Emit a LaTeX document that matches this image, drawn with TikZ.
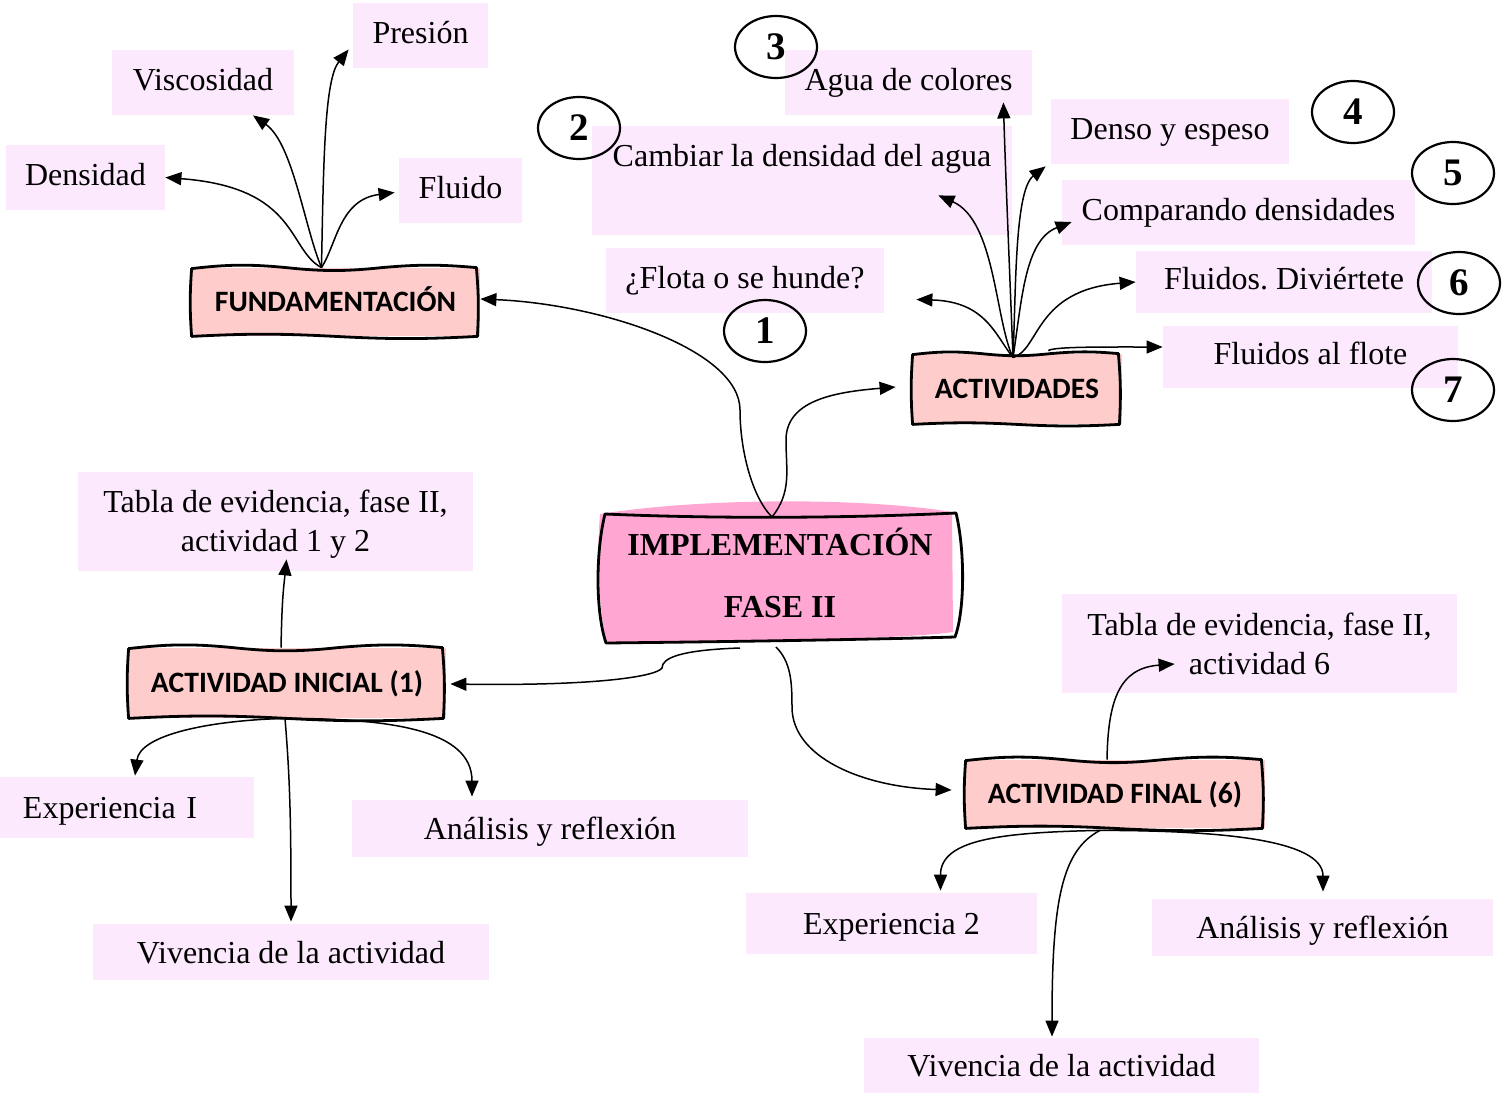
\documentclass[tikz,border=0pt]{standalone}
\usepackage{fontspec}
\setmainfont{Liberation Serif}
\newfontfamily\headfont{Carlito}
\usetikzlibrary{arrows.meta,calc,shapes.geometric}
\frenchspacing

\definecolor{notepink}{RGB}{253,233,253}
\definecolor{boxsalmon}{RGB}{255,204,204}
\definecolor{corepink}{RGB}{255,166,210}

\tikzset{
  note/.style={fill=notepink, inner sep=0pt, text height=11pt, text depth=3.5pt,
    font=\fontsize{16}{19.5}\selectfont},
  lownote/.style={note, text height=14.5pt},
  note2/.style={fill=notepink, inner sep=0pt, align=center,
    font=\fontsize{16}{19.5}\selectfont},
  head/.style={fill=boxsalmon, inner sep=0pt, text height=9.5pt, text depth=0pt,
    font=\headfont\bfseries\fontsize{14.8}{17}\selectfont},
  frame/.style={line width=1.4pt, line join=round, line cap=round},
  link/.style={line width=0.75pt, -{Triangle[length=8pt,width=6.5pt]}},
  num/.style={ellipse, draw, line width=1.1pt, minimum width=41pt, minimum height=31pt,
    inner sep=0pt, font=\bfseries\fontsize{19.5}{20}\selectfont},
}

% hand-drawn looking outline around a head box
\newcommand\roughframe[1]{%
  \draw[frame]
    ([shift={(1,1)}]#1.north west)
    to[bend left=6] ($(#1.north west)!0.33!(#1.north east)$)
    to[bend right=6] ($(#1.north west)!0.66!(#1.north east)$)
    to[bend left=5] ([shift={(-4,0)}]#1.north east)
    to[bend left=4] ([shift={(-3,0)}]#1.south east)
    to[bend left=3] ($(#1.south west)!0.5!(#1.south east)$)
    to[bend right=3] ([shift={(1,0)}]#1.south west)
    to[bend left=4] ([shift={(1,1)}]#1.north west);}

\begin{document}
\begin{tikzpicture}[x=0.5pt,y=-0.5pt]
\useasboundingbox (0,0) rectangle (1511,1093);

% ---- concept notes ----
\node[note, minimum width=67.5pt, minimum height=32.5pt] (pres) at (420.5,35.5) {Presión};
\node[note, minimum width=91pt, minimum height=32.5pt] (visc) at (203,82.5) {Viscosidad};
\node[note, minimum width=79.5pt, minimum height=32.5pt] (dens) at (85.5,177.5) {Densidad};
\node[note, minimum width=61.5pt, minimum height=32.5pt] (flui) at (460.5,190.5) {Fluido};

\node[note, minimum width=123.5pt, minimum height=32.5pt] (agua) at (908.5,82.5) {Agua de colores};
\node[note, minimum width=210pt, text height=20pt, text depth=34.5pt] (cambiar) at (802,180.5) {Cambiar la densidad del agua};
\node[note, minimum width=139pt, minimum height=32.5pt] (flota) at (745,280.5) {¿Flota o se hunde?};
\node[note, minimum width=119pt, minimum height=32.5pt] (denso) at (1170,131.5) {Denso y espeso};
\node[note, minimum width=176.5pt, minimum height=32.5pt] (comp) at (1238.5,212.5) {Comparando densidades};
\node[note, minimum width=148pt, minimum height=31pt] (div) at (1284,282) {Fluidos. Diviértete};
\node[note, minimum width=147.5pt, minimum height=31pt] (flote) at (1310.5,357) {Fluidos al flote};

\node[note2, minimum width=197.5pt, minimum height=49.5pt] (tabla1) at (275.5,521.5) {\rule{0pt}{14pt}Tabla de evidencia, fase II,\\actividad 1 y 2};
\node[lownote, inner xsep=11.5pt, text width=104pt, align=left, minimum height=30.5pt] (exp1) at (127,807.5) {Experiencia I};
\node[lownote, minimum width=198pt, minimum height=28.5pt] (anal1) at (550,828.5) {Análisis y reflexión};
\node[lownote, minimum width=198pt, minimum height=28pt] (viv1) at (291,952) {Vivencia de la actividad};

\node[note2, minimum width=197.5pt, minimum height=49.5pt] (tabla2) at (1259.5,643.5) {Tabla de evidencia, fase II,\\actividad 6};
\node[lownote, minimum width=145.5pt, minimum height=30.5pt] (exp2) at (891.5,923.5) {Experiencia 2};
\node[lownote, minimum width=170.5pt, minimum height=28.5pt] (anal2) at (1322.5,927.5) {Análisis y reflexión};
\node[lownote, minimum width=197.5pt, minimum height=27.5pt] (viv2) at (1061.5,1065.5) {Vivencia de la actividad};

% ---- central block ----
\fill[corepink] (600,514) .. controls (700,498) and (860,497) .. (952,512)
  -- (953,632) .. controls (900,640) and (700,642) .. (606,642)
  .. controls (598,600) and (597,550) .. (600,514) -- cycle;
\draw[frame] (605,514) .. controls (720,519) and (850,518) .. (956,513)
  .. controls (965,550) and (965,610) .. (955,637)
  .. controls (850,640) and (700,642) .. (606,643)
  .. controls (595,610) and (596,550) .. (605,514) -- cycle;
\node[align=center, inner sep=0pt, font=\bfseries\fontsize{16}{31}\selectfont] (impl) at (780,573)
  {IMPLEMENTACIÓN\\FASE II};

% ---- head boxes ----
\node[head, minimum width=144.5pt, minimum height=34pt] (fund) at (335.5,302) {FUNDAMENTACIÓN};
\node[head, minimum width=105pt, minimum height=35pt] (act) at (1017,389) {ACTIVIDADES};
\node[head, minimum width=159pt, minimum height=35pt] (ini) at (287,683) {ACTIVIDAD INICIAL (1)};
\node[head, minimum width=150pt, minimum height=34pt] (fin) at (1115,794) {ACTIVIDAD FINAL (6)};
\roughframe{fund}
\roughframe{act}
\roughframe{ini}
\roughframe{fin}

% ---- connector origins ----
\coordinate (fundtop) at ([shift={(-14,0)}]fund.north);
\coordinate (impltop) at ([shift={(-8,-56)}]impl.center);
\coordinate (implbotL) at ([shift={(-40,75)}]impl.center);
\coordinate (implbotR) at ([shift={(-4,74)}]impl.center);
\coordinate (acttop) at ([shift={(-4,4)}]act.north);
\coordinate (actedge) at ([shift={(-74,-3)}]act.north east);
\coordinate (initop) at ([shift={(-6,0)}]ini.north);
\coordinate (inibot) at ([shift={(-2,0)}]ini.south);
\coordinate (fintop) at ([shift={(-8,0)}]fin.north);
\coordinate (finbot) at ([shift={(-15,2)}]fin.south);

% ---- connectors ----
\draw[link] (fundtop) .. controls +(-34,-18) and +(133,10) .. (dens.east);
\draw[link] (fundtop) .. controls +(-17,-40) and +(40,28) .. ([shift={(50,0)}]visc.south);
\draw[link] (fundtop) .. controls +(2,-108) and +(-24,30) .. ([shift={(-4,14)}]pres.west);
\draw[link] (fundtop) .. controls +(15,-23) and +(-55,7) .. ([shift={(-4,2)}]flui.west);

\draw[link] (impltop) .. controls +(-20,-20) and +(0,40) .. ++(-32,-107)
  .. controls +(0,-60) and +(121,5) .. ([shift={(0,-3)}]fund.east);
\draw[link] (impltop) .. controls +(20,-25) and +(0,30) .. ++(14,-77)
  .. controls +(0,-40) and +(-60,5) .. ([shift={(-16,-2)}]act.west);

\draw[link] (acttop) .. controls +(-18,-23) and +(69,2) .. ([shift={(32,19)}]flota.east);
\draw[link] (acttop) .. controls +(-18,-38) and +(57,25) .. ([shift={(-74,-40)}]cambiar.south east);
\draw[link] (acttop) .. controls +(-3,-78) and +(2,68) .. ([shift={(-29,-13)}]agua.south east);
\draw[link] (acttop) .. controls +(3,-68) and +(-31,24) .. ([shift={(-5,2)}]denso.south west);
\draw[link] (acttop) .. controls +(9,-58) and +(-47,18) .. ([shift={(10,9.5)}]comp.west);
\draw[link] (acttop) .. controls +(27,-8) and +(-101,8) .. (div.west);
\draw[link] (actedge) .. controls +(5,-4) and +(-60,0) .. ([shift={(0,-10)}]flote.west);

\draw[link] (implbotL) .. controls +(-60,2) and +(0,-10) .. ++(-78,20)
  .. controls +(-5,8) and +(150,2) .. ([shift={(4,1)}]ini.east);
\draw[link] (implbotR) .. controls +(15,15) and +(0,-25) .. ++(16,60)
  .. controls +(0,50) and +(-90,-3) .. ([shift={(-13,-4)}]fin.west);

\draw[link] (initop) .. controls +(1,-50) and +(-3,30) .. ([shift={(11,-12)}]tabla1.south);
\draw[link] (inibot) .. controls +(-75,2) and +(5,-41) .. ([shift={(8,-1)}]exp1.north);
\draw[link] (inibot) .. controls +(5,60) and +(0,-100) .. ([shift={(0,-2)}]viv1.north);
\draw[link] (inibot) .. controls +(105,0) and +(0,-67) .. ([shift={(-78,-3)}]anal1.north);

\draw[link] (fintop) .. controls +(1,-60) and +(-55,4) .. ([shift={(113,20.5)}]tabla2.west);
\draw[link] (finbot) .. controls +(-100,2) and +(0,-51) .. ([shift={(49,-2)}]exp2.north);
\draw[link] (finbot) .. controls +(-38,20) and +(0,-137) .. ([shift={(-9.5,-1)}]viv2.north);
\draw[link] (finbot) .. controls +(120,0) and +(0,-52) .. ([shift={(0.5,-7)}]anal2.north);

% ---- activity numbers ----
\node[num] (n1) at (765,331) {1};
\node[num] (n2) at (579,128) {2};
\node[num] (n3) at (776,47) {3};
\node[num] (n4) at (1353,112) {4};
\node[num] (n5) at (1453,173) {5};
\node[num] (n6) at (1459,283) {6};
\node[num] (n7) at (1453,390) {7};
\end{tikzpicture}
\end{document}
